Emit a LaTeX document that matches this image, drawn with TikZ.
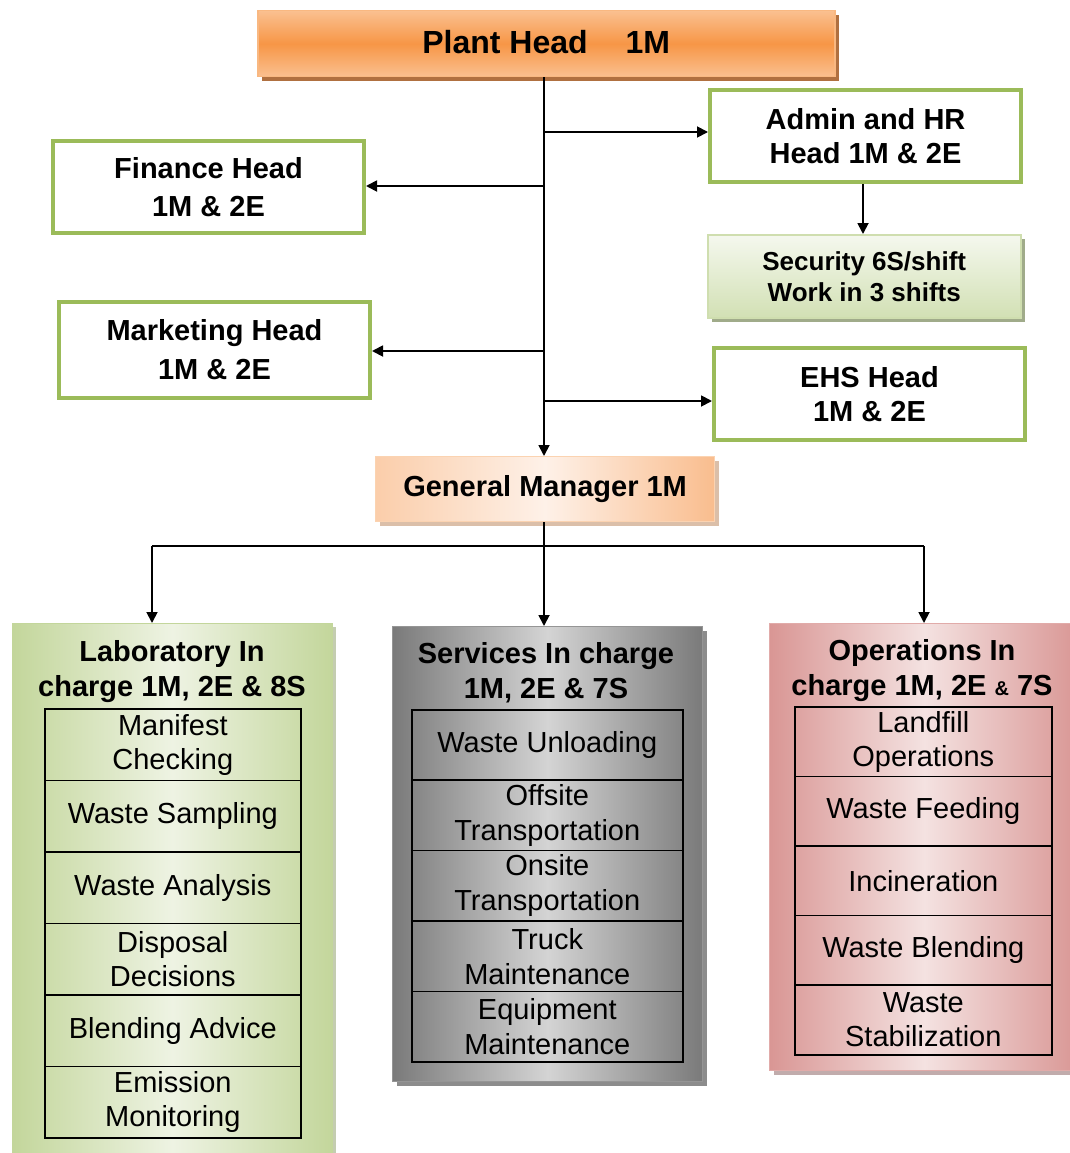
\documentclass[tikz,border=0pt]{standalone}
\usepackage{fontspec}
\setmainfont{Liberation Sans}
\usetikzlibrary{arrows.meta,shadows}
\definecolor{grnb}{HTML}{9BBB59}
\definecolor{orD}{HTML}{F79646}
\definecolor{orL}{HTML}{FAC090}
\definecolor{orS}{HTML}{B07040}
\definecolor{pchA}{HTML}{F9BD8E}
\definecolor{pchB}{HTML}{FEF1E8}
\definecolor{lgD}{HTML}{C3D69B}
\definecolor{lgL}{HTML}{EEF3E3}
\definecolor{gyD}{HTML}{7A7A7A}
\definecolor{gyL}{HTML}{D4D4D4}
\definecolor{pkD}{HTML}{D99694}
\definecolor{pkL}{HTML}{F4E2E1}
\tikzset{
  bigfont/.style={font=\bfseries\fontsize{29}{34}\selectfont},
  greenbox/.style={draw=grnb, line width=4pt, fill=white, minimum width=311pt,
    minimum height=92pt, align=center, inner sep=0pt, bigfont},
  arr/.style={line width=1.8pt, -{Triangle[length=11pt,width=11pt]}},
  ln/.style={line width=1.8pt},
  cell/.style={draw=black, line width=1.6pt, align=center, inner sep=0pt,
    font=\fontsize{29}{34}\selectfont, anchor=north west},
  panel/.style={anchor=north west, inner sep=0pt, shading angle=45},
  ptitle/.style={align=center, inner sep=0pt, font=\bfseries\fontsize{29}{35}\selectfont}
}
\begin{document}
\begin{tikzpicture}[x=1pt,y=-1pt]
\useasboundingbox (0,0) rectangle (1070,1153);

% Plant head
\node[anchor=north west, minimum width=577pt, minimum height=66pt, inner sep=0pt,
  draw=orL!80!orD, line width=1.5pt, top color=orL, bottom color=orL, middle color=orD,
  drop shadow={shadow xshift=4pt, shadow yshift=-4pt, fill=orS, opacity=1},
  font=\bfseries\fontsize{32}{34}\selectfont] (plant) at (257,10) {\raisebox{4pt}{Plant Head\hspace{38pt}1M}};

% General manager
\node[anchor=north west, minimum width=339pt, minimum height=65pt, inner sep=0pt,
  draw=orL!70, line width=1.2pt, left color=pchA!75, right color=pchA, middle color=pchB,
  drop shadow={shadow xshift=4pt, shadow yshift=-4pt, fill=orS!45, opacity=1},
  bigfont] (gm) at (375,456) {\raisebox{2pt}{General Manager 1M}\hspace{12pt}};

% Green boxes
\node[greenbox, anchor=north west] (admin) at (708,88) {Admin and HR\\Head 1M \& 2E};
\node[greenbox, anchor=north west, font=\bfseries\fontsize{29}{38}\selectfont] (fin) at (51,139) {Finance Head\\1M \& 2E};
\node[greenbox, anchor=north west, minimum height=96pt, font=\bfseries\fontsize{29}{39}\selectfont] (mkt) at (57,300) {Marketing Head\\1M \& 2E};
\node[greenbox, anchor=north west] (ehs) at (712,346) {EHS Head\\1M \& 2E};

% Security
\node[anchor=north west, minimum width=313pt, minimum height=83pt, inner sep=0pt,
  draw=lgD!80, line width=1.5pt, top color=lgL!60, bottom color=lgD!75,
  drop shadow={shadow xshift=4pt, shadow yshift=-4pt, fill=black!30!lgD!80, opacity=1},
  align=center, font=\bfseries\fontsize{26}{31}\selectfont] (sec) at (707,234) {Security 6S/shift\\Work in 3 shifts};

% Trunk
\coordinate (top) at (544,76);
\draw[arr] (plant.south -| top) -- (gm.north -| top);
\coordinate (ta) at (544,132);
\coordinate (tf) at (544,186);
\coordinate (tm) at (544,351);
\coordinate (te) at (544,401);
\draw[arr] (ta) -- (ta -| admin.west);
\draw[arr] (tf) -- (tf -| fin.east);
\draw[arr] (tm) -- (tm -| mkt.east);
\draw[arr] (te) -- (te -| ehs.west);
\draw[arr] (admin.south -| 863,0) -- (sec.north -| 863,0);

% Panels
\node[panel, minimum width=320pt, minimum height=532pt, draw=lgD, line width=1.2pt,
  left color=lgD, right color=lgD, middle color=lgL,
  drop shadow={shadow xshift=3pt, shadow yshift=-3pt, fill=lgD!80!black!60, opacity=1}] (lab) at (12,623) {};
\node[panel, minimum width=310pt, minimum height=455pt, draw=gyD!80, line width=1.2pt,
  left color=gyD, right color=gyD, middle color=gyL,
  drop shadow={shadow xshift=4pt, shadow yshift=-4pt, fill=black!45, opacity=1}] (srv) at (392,626) {};
\node[panel, minimum width=310pt, minimum height=447pt, draw=pkD!80, line width=1.2pt,
  left color=pkD, right color=pkD, middle color=pkL,
  drop shadow={shadow xshift=4pt, shadow yshift=-4pt, fill=pkD!60!black!50, opacity=1}] (ops) at (769,623) {};

% Branch connectors
\coordinate (hb) at (544,546);
\coordinate (hl) at (152,546);
\coordinate (hr) at (924,546);
\draw[ln] (gm.south -| hb) -- (hb);
\draw[ln] (hl) -- (hr);
\draw[arr] (hl) -- (hl |- lab.north);
\draw[arr] (hb) -- (hb |- srv.north);
\draw[arr] (hr) -- (hr |- ops.north);

% Titles
\node[ptitle] (labt) at (172,672) {Laboratory In\\charge 1M, 2E \& 8S};
\node[ptitle] (srvt) at (546,673) {Services In charge\\1M, 2E \& 7S};
\node[ptitle] (opst) at (922,671) {Operations In\\charge 1M, 2E {\fontsize{20}{20}\selectfont\&} 7S};

% Lab cells
\tikzset{lc/.style={cell, minimum width=256pt, minimum height=71.5pt}}
\node[lc] (l1) at (44,708) {Manifest\\Checking};
\node[lc] (l2) at (44,779.5) {Waste Sampling};
\node[lc] (l3) at (44,851) {Waste Analysis};
\node[lc] (l4) at (44,922.5) {Disposal\\Decisions};
\node[lc] (l5) at (44,994) {Blending Advice};
\node[lc] (l6) at (44,1065.5) {Emission\\Monitoring};

% Services cells
\tikzset{sc/.style={cell, minimum width=271pt, minimum height=70.4pt, font=\fontsize{29}{35}\selectfont}}
\node[sc] (s1) at (411,709) {Waste Unloading};
\node[sc] (s2) at (411,779.4) {Offsite\\Transportation};
\node[sc] (s3) at (411,849.8) {Onsite\\Transportation};
\node[sc] (s4) at (411,920.2) {Truck\\Maintenance};
\node[sc] (s5) at (411,990.6) {Equipment\\Maintenance};

% Operations cells
\tikzset{oc/.style={cell, minimum width=257pt, minimum height=69.6pt}}
\node[oc] (o1) at (794,706) {Landfill\\Operations};
\node[oc] (o2) at (794,775.6) {Waste Feeding};
\node[oc] (o3) at (794,845.2) {Incineration};
\node[oc] (o4) at (794,914.8) {Waste Blending};
\node[oc] (o5) at (794,984.4) {Waste\\Stabilization};
\end{tikzpicture}
\end{document}
